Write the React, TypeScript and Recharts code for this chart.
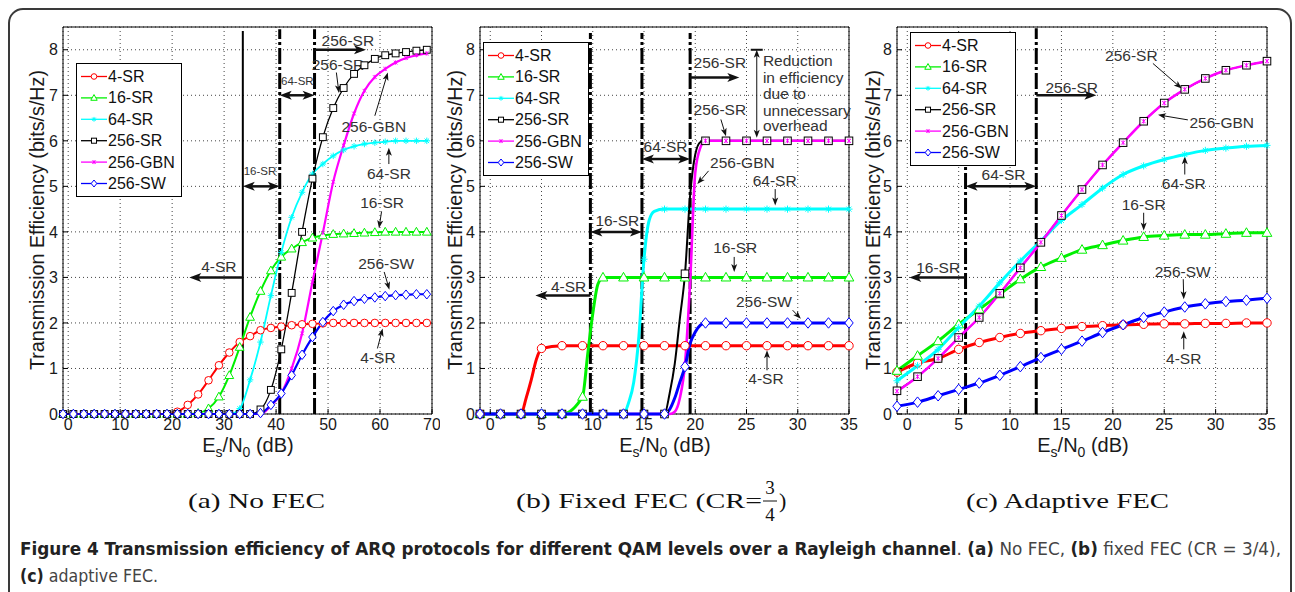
import React from 'react';
import {
  LineChart,
  Line,
  XAxis,
  YAxis,
  CartesianGrid,
  ReferenceLine,
  ReferenceDot,
  ReferenceArea,
  Legend,
} from 'recharts';

const FONT = "'Liberation Sans', Arial, Helvetica, sans-serif";
const SERIF = "'Liberation Serif', 'DejaVu Serif', serif";
const NARROW = "'DejaVu Sans Condensed', 'Liberation Sans', sans-serif";

// series shared by the three panels
const seriesNames = ['4-SR', '16-SR', '64-SR', '256-SR', '256-GBN', '256-SW'];
const seriesColors = ['#ff0000', '#00f000', '#00ffff', '#000000', '#ff00ff', '#0000ff'];
const seriesMarkers = ['circle', 'triangle', 'star', 'square', 'cross', 'diamond'];
const effTicks = [0, 1, 2, 3, 4, 5, 6, 7, 8];

// (a) No FEC
const aSnr = [-1, 1, 3, 5, 7, 9, 11, 13, 15, 17, 19, 21, 23, 25, 27, 29, 31, 33, 35, 37, 39, 41, 43, 45, 47, 49, 51, 53, 55, 57, 59, 61, 63, 65, 67, 69];
const a4SR = [0, 0, 0, 0, 0, 0, 0, 0, 0, 0, 0, 0.05, 0.2, 0.43, 0.74, 1.07, 1.35, 1.58, 1.71, 1.84, 1.89, 1.92, 1.95, 1.97, 1.98, 1.99, 2, 2, 2, 2, 2, 2, 2, 2, 2, 2];
const a16SR = [0, 0, 0, 0, 0, 0, 0, 0, 0, 0, 0, 0, 0, 0.02, 0.12, 0.38, 0.85, 1.47, 2.13, 2.7, 3.15, 3.45, 3.63, 3.77, 3.87, 3.92, 3.95, 3.96, 3.97, 3.98, 3.99, 4, 4, 4, 4, 4];
const a64SR = [0, 0, 0, 0, 0, 0, 0, 0, 0, 0, 0, 0, 0, 0, 0, 0, 0, 0.12, 0.75, 1.58, 2.6, 3.55, 4.32, 4.87, 5.27, 5.49, 5.67, 5.8, 5.88, 5.93, 5.96, 5.98, 6, 6, 6, 6];
const a256SR = [0, 0, 0, 0, 0, 0, 0, 0, 0, 0, 0, 0, 0, 0, 0, 0, 0, 0, 0, 0.1, 0.53, 1.42, 2.66, 4.0, 5.17, 6.08, 6.72, 7.16, 7.47, 7.66, 7.8, 7.88, 7.92, 7.95, 7.98, 8.0];
const a256GBN = [0, 0, 0, 0, 0, 0, 0, 0, 0, 0, 0, 0, 0, 0, 0, 0, 0, 0, 0, 0, 0.18, 0.45, 1.0, 1.77, 2.9, 3.98, 5.1, 5.9, 6.6, 7.1, 7.4, 7.58, 7.72, 7.82, 7.88, 7.92];
const a256SW = [0, 0, 0, 0, 0, 0, 0, 0, 0, 0, 0, 0, 0, 0, 0, 0, 0, 0, 0, 0.02, 0.2, 0.45, 0.85, 1.3, 1.69, 2.02, 2.26, 2.4, 2.48, 2.53, 2.56, 2.59, 2.61, 2.62, 2.63, 2.63];

// (b) Fixed FEC, CR = 3/4 (extra half-dB readings on the steep parts)
const bSnr = [-1, 1, 3, 3.5, 4, 4.5, 5, 7, 9, 9.5, 10, 10.5, 11, 13, 13.5, 14, 14.5, 15, 15.5, 16, 17, 17.5, 18, 18.5, 19, 19.5, 20, 20.5, 21, 23, 25, 27, 29, 31, 33, 35];
const b4SR = [0, 0, 0, 0.35, 0.75, 1.2, 1.44, 1.5, 1.5, 1.5, 1.5, 1.5, 1.5, 1.5, 1.5, 1.5, 1.5, 1.5, 1.5, 1.5, 1.5, 1.5, 1.5, 1.5, 1.5, 1.5, 1.5, 1.5, 1.5, 1.5, 1.5, 1.5, 1.5, 1.5, 1.5, 1.5];
const b16SR = [0, 0, 0, 0, 0, 0, 0, 0, 0.38, 1.3, 2.2, 2.85, 3, 3, 3, 3, 3, 3, 3, 3, 3, 3, 3, 3, 3, 3, 3, 3, 3, 3, 3, 3, 3, 3, 3, 3];
const b64SR = [0, 0, 0, 0, 0, 0, 0, 0, 0, 0, 0, 0, 0, 0, 0.25, 0.7, 1.7, 3.4, 4.25, 4.45, 4.5, 4.5, 4.5, 4.5, 4.5, 4.5, 4.5, 4.5, 4.5, 4.5, 4.5, 4.5, 4.5, 4.5, 4.5, 4.5];
const b256SR = [0, 0, 0, 0, 0, 0, 0, 0, 0, 0, 0, 0, 0, 0, 0, 0, 0, 0, 0, 0, 0, 0.45, 1.1, 2.1, 3.08, 4.8, 5.7, 5.97, 6, 6, 6, 6, 6, 6, 6, 6];
const b256GBN = [0, 0, 0, 0, 0, 0, 0, 0, 0, 0, 0, 0, 0, 0, 0, 0, 0, 0, 0, 0, 0, 0, 0.05, 0.35, 1.1, 2.9, 5.3, 5.85, 6, 6, 6, 6, 6, 6, 6, 6];
const b256SW = [0, 0, 0, 0, 0, 0, 0, 0, 0, 0, 0, 0, 0, 0, 0, 0, 0, 0, 0, 0, 0, 0.1, 0.35, 0.7, 1.04, 1.55, 1.8, 1.95, 2, 2, 2, 2, 2, 2, 2, 2];

// (c) Adaptive FEC
const cSnr = [-1, 1, 3, 5, 7, 9, 11, 13, 15, 17, 19, 21, 23, 25, 27, 29, 31, 33, 35];
const c4SR = [0.92, 1.12, 1.22, 1.42, 1.57, 1.68, 1.77, 1.83, 1.88, 1.92, 1.94, 1.96, 1.97, 1.98, 1.98, 1.99, 1.99, 2.0, 2.0];
const c16SR = [0.95, 1.28, 1.6, 1.97, 2.3, 2.63, 2.96, 3.23, 3.43, 3.61, 3.71, 3.81, 3.89, 3.92, 3.94, 3.94, 3.96, 3.98, 3.98];
const c64SR = [0.73, 1.06, 1.42, 1.9, 2.37, 2.88, 3.36, 3.8, 4.25, 4.6, 4.96, 5.26, 5.45, 5.59, 5.7, 5.79, 5.84, 5.88, 5.9];
const c256SR = [0.51, 0.82, 1.22, 1.68, 2.12, 2.65, 3.21, 3.77, 4.36, 4.93, 5.47, 5.96, 6.43, 6.83, 7.13, 7.37, 7.55, 7.66, 7.75];
const c256GBN = [0.5, 0.82, 1.22, 1.68, 2.12, 2.65, 3.21, 3.77, 4.36, 4.93, 5.47, 5.96, 6.43, 6.83, 7.13, 7.37, 7.55, 7.66, 7.75];
const c256SW = [0.17, 0.26, 0.4, 0.54, 0.68, 0.85, 1.04, 1.24, 1.42, 1.6, 1.79, 1.96, 2.12, 2.24, 2.35, 2.42, 2.47, 2.5, 2.54];

const toRows = (snr: number[], cols: number[][]) =>
  snr.map((x, i) => {
    const row: any = { x };
    cols.forEach((c, k) => (row[`s${k}`] = c[i]));
    return row;
  });

const aRows = toRows(aSnr, [a4SR, a16SR, a64SR, a256SR, a256GBN, a256SW]);
const bRows = toRows(bSnr, [b4SR, b16SR, b64SR, b256SR, b256GBN, b256SW]);
const cRows = toRows(cSnr, [c4SR, c16SR, c64SR, c256SR, c256GBN, c256SW]);

// annotations, in data units
const aNotes = [
  { x: 53.8, y: 8.2, text: '256-SR' },
  { x: 44.1, y: 7.31, text: '64-SR', small: true },
  { x: 51.9, y: 7.68, text: '256-SR' },
  { x: 58.8, y: 6.31, text: '256-GBN' },
  { x: 61.7, y: 5.29, text: '64-SR' },
  { x: 60.4, y: 4.65, text: '16-SR' },
  { x: 61.2, y: 3.3, text: '256-SW' },
  { x: 59.6, y: 1.24, text: '4-SR' },
  { x: 36.9, y: 5.33, text: '16-SR', small: true },
  { x: 29.0, y: 3.24, text: '4-SR' },
];
const aArrows = [
  { x1: 47.4, y1: 8.0, x2: 57.3, y2: 8.0, heads: 1, thick: true },
  { x1: 40.7, y1: 7.0, x2: 47.4, y2: 7.0, heads: 2, thick: true },
  { x1: 33.6, y1: 5.0, x2: 40.7, y2: 5.0, heads: 2, thick: true },
  { x1: 33.6, y1: 3.0, x2: 23.3, y2: 3.0, heads: 1, thick: true },
  { x1: 51.6, y1: 7.5, x2: 52.1, y2: 7.05, heads: 1 },
  { x1: 59.0, y1: 6.55, x2: 61.5, y2: 7.5, heads: 1 },
  { x1: 61.7, y1: 5.49, x2: 61.7, y2: 5.85, heads: 1 },
  { x1: 60.3, y1: 4.45, x2: 59.8, y2: 4.08, heads: 1 },
  { x1: 60.8, y1: 3.12, x2: 61.8, y2: 2.73, heads: 1 },
  { x1: 59.5, y1: 1.44, x2: 60.5, y2: 1.88, heads: 1 },
];
const aCuts = [
  { x: 33.6, top: 8.41, solid: true },
  { x: 40.7, top: 8.45 },
  { x: 47.4, top: 8.45 },
];

const bNotes = [
  { x: 7.65, y: 2.8, text: '4-SR' },
  { x: 12.4, y: 4.25, text: '16-SR' },
  { x: 17.1, y: 5.88, text: '64-SR' },
  { x: 22.4, y: 7.73, text: '256-SR' },
  { x: 22.4, y: 6.69, text: '256-SR' },
  { x: 24.6, y: 5.53, text: '256-GBN' },
  { x: 27.75, y: 5.12, text: '64-SR' },
  { x: 23.9, y: 3.66, text: '16-SR' },
  { x: 26.7, y: 2.46, text: '256-SW' },
  { x: 26.9, y: 0.78, text: '4-SR' },
  { x: 26.6, y: 7.77, text: 'Reduction', start: true },
  { x: 26.6, y: 7.4, text: 'in efficiency', start: true },
  { x: 26.6, y: 7.04, text: 'due to', start: true },
  { x: 26.6, y: 6.67, text: 'unnecessary', start: true },
  { x: 26.6, y: 6.33, text: 'overhead', start: true },
];
const bArrows = [
  { x1: 9.77, y1: 2.6, x2: 4.4, y2: 2.6, heads: 1, thick: true },
  { x1: 9.77, y1: 4.0, x2: 14.8, y2: 4.0, heads: 2, thick: true },
  { x1: 14.8, y1: 5.6, x2: 19.5, y2: 5.6, heads: 2, thick: true },
  { x1: 19.5, y1: 7.39, x2: 24.3, y2: 7.39, heads: 1, thick: true },
  { x1: 22.5, y1: 6.47, x2: 23.0, y2: 6.1, heads: 1 },
  { x1: 21.3, y1: 5.34, x2: 20.2, y2: 5.05, heads: 1 },
  { x1: 27.8, y1: 4.94, x2: 27.8, y2: 4.58, heads: 1 },
  { x1: 23.8, y1: 3.45, x2: 23.8, y2: 3.12, heads: 1 },
  { x1: 29.5, y1: 2.28, x2: 30.3, y2: 2.09, heads: 1 },
  { x1: 27.0, y1: 0.96, x2: 27.0, y2: 1.4, heads: 1 },
  { x1: 26.0, y1: 6.07, x2: 26.0, y2: 8.0, heads: 2, bar: true },
];
const bCuts = [
  { x: 9.77, top: 8.37 },
  { x: 14.8, top: 8.37 },
  { x: 19.5, top: 8.37 },
];

const cNotes = [
  { x: 3.0, y: 3.21, text: '16-SR' },
  { x: 9.37, y: 5.26, text: '64-SR' },
  { x: 16.0, y: 7.18, text: '256-SR' },
  { x: 21.8, y: 7.88, text: '256-SR' },
  { x: 30.6, y: 6.4, text: '256-GBN' },
  { x: 26.9, y: 5.07, text: '64-SR' },
  { x: 23.0, y: 4.6, text: '16-SR' },
  { x: 26.8, y: 3.14, text: '256-SW' },
  { x: 26.9, y: 1.22, text: '4-SR' },
];
const cArrows = [
  { x1: 5.67, y1: 3.0, x2: 0.2, y2: 3.0, heads: 1, thick: true },
  { x1: 5.67, y1: 5.0, x2: 12.55, y2: 5.0, heads: 2, thick: true },
  { x1: 12.55, y1: 7.0, x2: 18.4, y2: 7.0, heads: 1, thick: true },
  { x1: 23.9, y1: 7.7, x2: 26.7, y2: 7.15, heads: 1 },
  { x1: 27.3, y1: 6.46, x2: 24.4, y2: 6.57, heads: 1 },
  { x1: 27.0, y1: 5.26, x2: 27.0, y2: 5.66, heads: 1 },
  { x1: 23.0, y1: 4.42, x2: 23.0, y2: 4.03, heads: 1 },
  { x1: 26.85, y1: 2.96, x2: 26.9, y2: 2.52, heads: 1 },
  { x1: 26.9, y1: 1.42, x2: 26.9, y2: 1.82, heads: 1 },
];
const cCuts = [
  { x: 5.67, top: 5.44 },
  { x: 12.55, top: 8.47 },
];

const isMarkerX = (x: number) => Number.isInteger(x) && Math.abs(x) % 2 === 1;

function MarkerShape({ kind, cx, cy, color, size }: any) {
  const s = size;
  if (kind === 'circle')
    return <circle cx={cx} cy={cy} r={s} fill="#fff" stroke={color} strokeWidth={1} />;
  if (kind === 'triangle')
    return (
      <polygon
        points={`${cx},${cy - s * 1.2} ${cx + s * 1.15},${cy + s * 0.85} ${cx - s * 1.15},${cy + s * 0.85}`}
        fill="#fff"
        stroke={color}
        strokeWidth={1}
      />
    );
  if (kind === 'square')
    return <rect x={cx - s * 0.9} y={cy - s * 0.9} width={s * 1.8} height={s * 1.8} fill="#fff" stroke={color} strokeWidth={1} />;
  if (kind === 'diamond')
    return (
      <polygon
        points={`${cx},${cy - s * 1.25} ${cx + s},${cy} ${cx},${cy + s * 1.25} ${cx - s},${cy}`}
        fill="#fff"
        stroke={color}
        strokeWidth={1}
      />
    );
  if (kind === 'star') {
    const r = s * 0.85;
    const d = r * 0.7;
    return (
      <path
        d={`M${cx - r},${cy}H${cx + r}M${cx},${cy - r}V${cy + r}M${cx - d},${cy - d}L${cx + d},${cy + d}M${cx - d},${cy + d}L${cx + d},${cy - d}`}
        stroke={color}
        strokeWidth={1}
      />
    );
  }
  const d = s * 0.6;
  return (
    <path
      d={`M${cx - d},${cy - d}L${cx + d},${cy + d}M${cx - d},${cy + d}L${cx + d},${cy - d}M${cx},${cy - d * 1.2}V${cy + d * 1.2}`}
      stroke={color}
      strokeWidth={1}
    />
  );
}

const renderDot = (kind: string, color: string, size: number) => (p: any) => {
  const x = p?.payload?.x;
  if (p.cx == null || p.cy == null || !isMarkerX(x)) return <g key={`n-${p.index}`} />;
  return <MarkerShape key={`m-${p.index}`} kind={kind} cx={p.cx} cy={p.cy} color={color} size={size} />;
};

const arrowShape = (a: any) => (p: any) => {
  const { x1, y1, x2, y2 } = p;
  const dx = x2 - x1;
  const dy = y2 - y1;
  const len = Math.hypot(dx, dy) || 1;
  const ux = dx / len;
  const uy = dy / len;
  const hl = a.thick ? 12 : 8;
  const hw = a.thick ? 9 : 6;
  const sw = a.thick ? 2.5 : 1;
  const head = (tx: number, ty: number, vx: number, vy: number) => {
    const bx = tx - vx * hl;
    const by = ty - vy * hl;
    const px = (-vy * hw) / 2;
    const py = (vx * hw) / 2;
    const nx = tx - vx * hl * 0.75;
    const ny = ty - vy * hl * 0.75;
    return `${tx},${ty} ${bx + px},${by + py} ${nx},${ny} ${bx - px},${by - py}`;
  };
  const sx = a.heads === 2 ? x1 + ux * hl * 0.7 : x1;
  const sy = a.heads === 2 ? y1 + uy * hl * 0.7 : y1;
  return (
    <g>
      <line x1={sx} y1={sy} x2={x2 - ux * hl * 0.7} y2={y2 - uy * hl * 0.7} stroke="#111" strokeWidth={sw} />
      <polygon points={head(x2, y2, ux, uy)} fill="#111" />
      {a.heads === 2 && <polygon points={head(x1, y1, -ux, -uy)} fill="#111" />}
      {a.bar && <line x1={x2 - 6} x2={x2 + 6} y1={y2} y2={y2} stroke="#111" strokeWidth={2} />}
    </g>
  );
};

function LegendBox() {
  const w = 106;
  const h = 134;
  return (
    <svg width={w} height={h} style={{ display: 'block' }}>
      <rect x={0.5} y={0.5} width={w - 1} height={h - 1} fill="#fff" stroke="#000" strokeWidth={1} />
      {seriesNames.map((n, i) => {
        const y = 13.5 + i * 21.4;
        return (
          <g key={n}>
            <line x1={5} x2={31} y1={y} y2={y} stroke={seriesColors[i]} strokeWidth={1.3} />
            <MarkerShape kind={seriesMarkers[i]} cx={18} cy={y} color={seriesColors[i]} size={2.8} />
            <text x={32} y={y} dominantBaseline="central" fontSize={16} fill="#111" fontFamily={FONT}>
              {n}
            </text>
          </g>
        );
      })}
    </svg>
  );
}

const tickStyle = { fill: '#1a1a1a', fontSize: 16, fontFamily: FONT };

function Panel({ left, width, yAxisWidth, right, xMax, xTicks, rows, widths, markerSize, notes, arrows, cuts, legendLeft, legendTop }: any) {
  return (
    <div style={{ position: 'absolute', left, top: 0 }}>
      <LineChart width={width} height={470} data={rows} margin={{ top: 27, right, bottom: 26, left: 0 }}>
        <CartesianGrid stroke="#444" strokeDasharray="1 3" />
        <XAxis
          dataKey="x"
          type="number"
          domain={[-1, xMax]}
          ticks={xTicks}
          interval={0}
          height={30}
          tick={tickStyle}
          tickSize={-5}
          tickMargin={10}
          axisLine={false}
          tickLine={{ stroke: '#000' }}
        />
        <YAxis
          type="number"
          domain={[0, 8.5]}
          ticks={effTicks}
          interval={0}
          width={yAxisWidth}
          tick={tickStyle}
          tickSize={-5}
          tickMargin={10}
          axisLine={false}
          tickLine={{ stroke: '#000' }}
        />
        {cuts.map((c: any, i: number) => (
          <ReferenceLine
            key={`cut${i}`}
            segment={[{ x: c.x, y: 0 }, { x: c.x, y: c.top }]}
            stroke="#000"
            strokeWidth={c.solid ? 2 : 3}
            strokeDasharray={c.solid ? undefined : '16 3 3 3'}
            ifOverflow="visible"
          />
        ))}
        {seriesNames.map((n, i) => (
          <Line
            key={n}
            dataKey={`s${i}`}
            name={n}
            type="monotone"
            stroke={seriesColors[i]}
            strokeWidth={widths[i]}
            dot={renderDot(seriesMarkers[i], seriesColors[i], i === 4 ? markerSize * 0.8 : markerSize)}
            activeDot={false}
            isAnimationActive={false}
          />
        ))}
        {arrows.map((a: any, i: number) => (
          <ReferenceLine
            key={`arr${i}`}
            segment={[{ x: a.x1, y: a.y1 }, { x: a.x2, y: a.y2 }]}
            ifOverflow="visible"
            shape={arrowShape(a)}
          />
        ))}
        {notes.map((n: any, i: number) => (
          <ReferenceDot
            key={`note${i}`}
            x={n.x}
            y={n.y}
            r={0}
            ifOverflow="visible"
            shape={(p: any) => (
              <text
                x={p.cx}
                y={p.cy}
                textAnchor={n.start ? 'start' : 'middle'}
                dominantBaseline="central"
                fontSize={n.small ? 11.5 : 15.5}
                fill="#333"
                fontFamily={FONT}
              >
                {n.text}
              </text>
            )}
          />
        ))}
        <ReferenceArea x1={-1} x2={xMax} y1={0} y2={8.5} fill="none" fillOpacity={0} stroke="#000" strokeWidth={1} ifOverflow="visible" />
        <Legend
          layout="vertical"
          align="center"
          verticalAlign="middle"
          content={() => <LegendBox />}
          wrapperStyle={{ left: legendLeft, top: legendTop, width: 106, height: 134, margin: 0, padding: 0, lineHeight: 0 }}
        />
      </LineChart>
    </div>
  );
}

function XTitle({ cx }: any) {
  return (
    <text x={cx} y={452} textAnchor="middle" fontSize={20} fill="#1a1a1a" fontFamily={FONT}>
      E<tspan fontSize={14} dy={5}>s</tspan>
      <tspan dy={-5}>/N</tspan>
      <tspan fontSize={14} dy={5}>0</tspan>
      <tspan dy={-5}> (dB)</tspan>
    </text>
  );
}

function YTitle({ cx }: any) {
  return (
    <text
      x={cx}
      y={220}
      transform={`rotate(-90 ${cx} 220)`}
      textAnchor="middle"
      dominantBaseline="central"
      fontSize={20}
      fill="#1a1a1a"
      fontFamily={FONT}
      textLength={300}
      lengthAdjust="spacingAndGlyphs"
    >
      Transmission Efficiency (bits/s/Hz)
    </text>
  );
}

export default function App() {
  return (
    <div style={{ position: 'absolute', left: 0, top: 0, width: 1295, height: 592, background: '#fff', overflow: 'hidden' }}>
      <Panel
        left={0}
        width={440}
        yAxisWidth={63}
        right={8}
        xMax={70}
        xTicks={[0, 10, 20, 30, 40, 50, 60, 70]}
        rows={aRows}
        widths={[2, 2, 1.8, 1.3, 2.2, 2.2]}
        markerSize={3.8}
        notes={aNotes}
        arrows={aArrows}
        cuts={aCuts}
        legendLeft={76}
        legendTop={63}
      />
      <Panel
        left={430}
        width={430}
        yAxisWidth={50}
        right={11}
        xMax={35}
        xTicks={[0, 5, 10, 15, 20, 25, 30, 35]}
        rows={bRows}
        widths={[3, 3, 3, 2, 2.6, 3]}
        markerSize={4.2}
        notes={bNotes}
        arrows={bArrows}
        cuts={bCuts}
        legendLeft={53}
        legendTop={42}
      />
      <Panel
        left={860}
        width={435}
        yAxisWidth={37}
        right={28}
        xMax={35}
        xTicks={[0, 5, 10, 15, 20, 25, 30, 35]}
        rows={cRows}
        widths={[3, 3, 3, 1.5, 2.5, 3]}
        markerSize={4.2}
        notes={cNotes}
        arrows={cArrows}
        cuts={cCuts}
        legendLeft={50}
        legendTop={32}
      />
      <svg width={1295} height={592} style={{ position: 'absolute', left: 0, top: 0, pointerEvents: 'none' }}>
        <rect x={9} y={9} width={1282} height={660} rx={14} fill="none" stroke="#3a3a3a" strokeWidth={2} />
        <YTitle cx={37} />
        <YTitle cx={455} />
        <YTitle cx={873} />
        <XTitle cx={248} />
        <XTitle cx={665} />
        <XTitle cx={1083} />
        <g fontFamily={SERIF} fontSize={22} fill="#111">
          <text x={188} y={508} textLength={137} lengthAdjust="spacingAndGlyphs">
            (a) No FEC
          </text>
          <text x={516} y={508} textLength={246} lengthAdjust="spacingAndGlyphs">
            (b) Fixed FEC (CR=
          </text>
          <text x={770} y={494} textAnchor="middle" fontSize={19}>
            3
          </text>
          <line x1={763} x2={777} y1={501} y2={501} stroke="#111" strokeWidth={1} />
          <text x={770} y={521} textAnchor="middle" fontSize={19}>
            4
          </text>
          <text x={779} y={508}>
            )
          </text>
          <text x={966} y={508} textLength={203} lengthAdjust="spacingAndGlyphs">
            (c) Adaptive FEC
          </text>
        </g>
        <g fontFamily={NARROW} fontSize={18.5}>
          <text x={20} y={555} textLength={1261} lengthAdjust="spacingAndGlyphs" fill="#444">
            <tspan fontWeight="bold" fill="#222">
              Figure 4 Transmission efficiency of ARQ protocols for different QAM levels over a Rayleigh channel
            </tspan>
            <tspan>. </tspan>
            <tspan fontWeight="bold" fill="#222">(a)</tspan>
            <tspan> No FEC, </tspan>
            <tspan fontWeight="bold" fill="#222">(b)</tspan>
            <tspan> fixed FEC (CR = 3/4),</tspan>
          </text>
          <text x={20} y={582} textLength={138} lengthAdjust="spacingAndGlyphs" fill="#444">
            <tspan fontWeight="bold" fill="#222">(c)</tspan>
            <tspan> adaptive FEC.</tspan>
          </text>
        </g>
      </svg>
    </div>
  );
}
